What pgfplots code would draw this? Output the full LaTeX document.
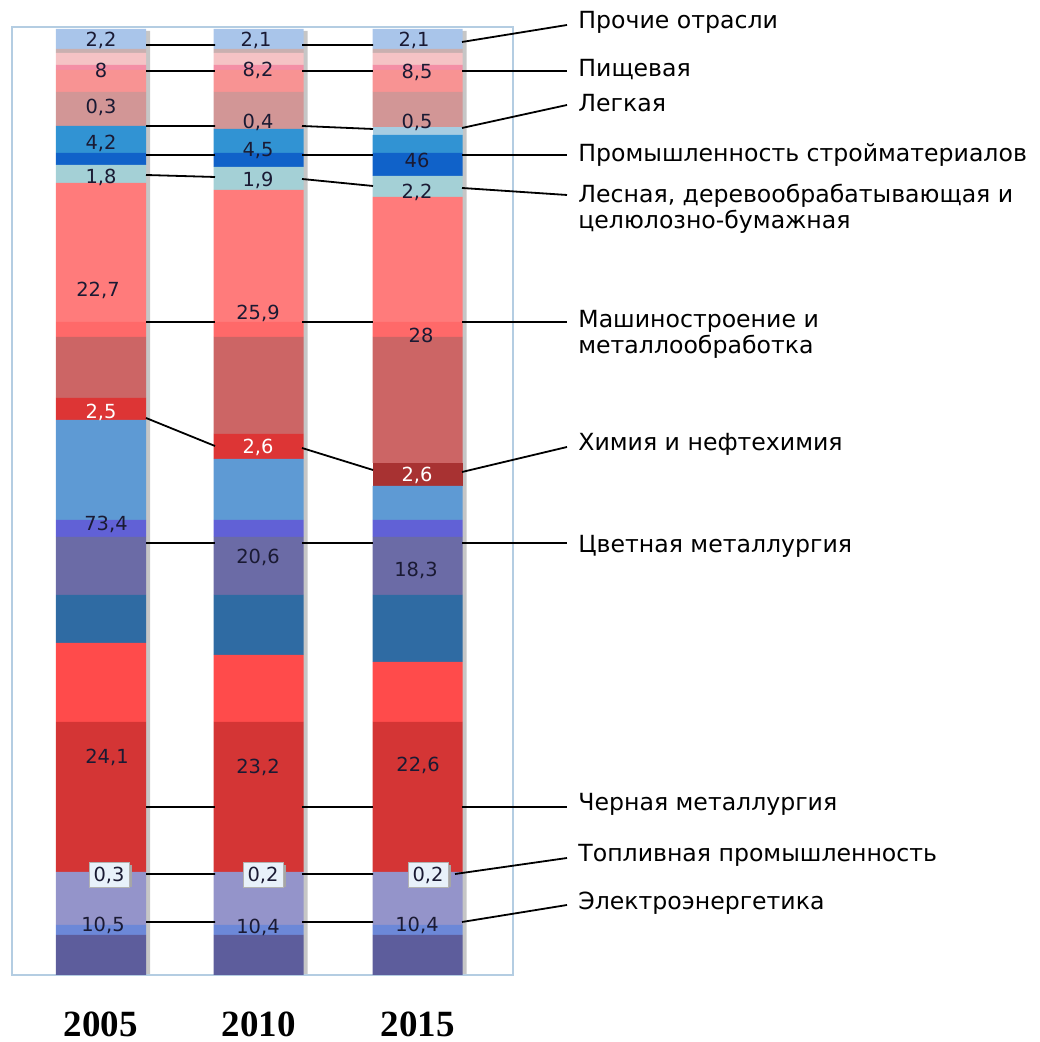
\documentclass[border=0pt]{standalone}
\usepackage{fontspec}
\setmainfont{DejaVu Sans}
\newfontfamily\yearfont{Liberation Serif}
\usepackage{pgfplots}
\pgfplotsset{compat=1.18}
\usepackage{pgfplotstable}

\definecolor{frameblue}{HTML}{B4CDE2}
\definecolor{c1}{HTML}{5D5D9C}
\definecolor{c2}{HTML}{6C88D8}
\definecolor{c3}{HTML}{9494CA}
\definecolor{c4}{HTML}{D43535}
\definecolor{c5}{HTML}{FF4B4B}
\definecolor{c6}{HTML}{2F6BA3}
\definecolor{c7}{HTML}{6B6BA6}
\definecolor{c8}{HTML}{6161D6}
\definecolor{c9}{HTML}{5E9AD4}
\definecolor{c10}{HTML}{DD3535}
\definecolor{c10b}{HTML}{A83232}
\definecolor{c11}{HTML}{CC6565}
\definecolor{c12}{HTML}{FF6969}
\definecolor{c13}{HTML}{FF7B7B}
\definecolor{c14}{HTML}{A4D0D6}
\definecolor{c15}{HTML}{1062C9}
\definecolor{c16}{HTML}{3193D3}
\definecolor{c17}{HTML}{A6CDE2}
\definecolor{c18}{HTML}{D29696}
\definecolor{c19}{HTML}{F89393}
\definecolor{c20}{HTML}{F48FA6}
\definecolor{c21}{HTML}{F5C3C5}
\definecolor{c22}{HTML}{C9B0B0}
\definecolor{c23}{HTML}{A9C5EA}
\definecolor{numtext}{HTML}{1A1A33}
\definecolor{boxfill}{HTML}{E8F1FA}

% segment heights as drawn (bottom to top); printed values are set as labels
\pgfplotstableread{
xx    sa sb sc sd  se sf sg sh si  sj  sk   sl  sm  sn  so  sp  sq  sr  ss  st  su  sv  sw  sy
101   40 10 53 150 79 48 58 17 100 22  0    61  15  139 18  12  27  0   34  22  5   12  4   20
258.5 40 10 53 150 67 60 58 17 61  25  0    97  15  132 23  14  24  0   37  22  5   12  4   20
417.5 40 10 53 150 60 67 58 17 34  0   23   126 15  125 21  23  18  8   35  22  5   12  4   20
}\datatab

\newcommand{\numfont}{\fontsize{9.7}{11}\selectfont}
\newcommand{\labfont}{\fontsize{11.8}{13}\selectfont}

\pgfplotsset{common/.style={x=0.5pt, y=0.5pt, xmin=12, xmax=513, ymin=0, ymax=948, clip=false}}

\begin{document}
\begin{tikzpicture}
% bar shadows
\begin{axis}[common, hide axis]
\addplot[ybar, bar width=90, draw=none, fill=gray!45] coordinates {(105,944) (262.5,944) (421.5,944)};
\path (axis cs:0,975) rectangle (axis cs:1039,-67);
\end{axis}

\begin{axis}[
  common,
  ybar stacked, bar width=90,
  axis line style={draw=frameblue, line width=0.6pt},
  xtick={101,258.5,417.5}, xticklabels={2005,2010,2015},
  xticklabel style={font=\yearfont\bfseries\fontsize{18.5}{22}\selectfont, anchor=center, inner sep=0pt, yshift=-24.5pt},
  ytick=\empty, major tick length=0,
]
\addplot[draw=none, fill=c1] table[x=xx,y=sa]{\datatab};
\addplot[draw=none, fill=c2] table[x=xx,y=sb]{\datatab};
\addplot[draw=none, fill=c3] table[x=xx,y=sc]{\datatab};
\addplot[draw=none, fill=c4] table[x=xx,y=sd]{\datatab};
\addplot[draw=none, fill=c5] table[x=xx,y=se]{\datatab};
\addplot[draw=none, fill=c6] table[x=xx,y=sf]{\datatab};
\addplot[draw=none, fill=c7] table[x=xx,y=sg]{\datatab};
\addplot[draw=none, fill=c8] table[x=xx,y=sh]{\datatab};
\addplot[draw=none, fill=c9] table[x=xx,y=si]{\datatab};
\addplot[draw=none, fill=c10] table[x=xx,y=sj]{\datatab};
\addplot[draw=none, fill=c10b] table[x=xx,y=sk]{\datatab};
\addplot[draw=none, fill=c11] table[x=xx,y=sl]{\datatab};
\addplot[draw=none, fill=c12] table[x=xx,y=sm]{\datatab};
\addplot[draw=none, fill=c13] table[x=xx,y=sn]{\datatab};
\addplot[draw=none, fill=c14] table[x=xx,y=so]{\datatab};
\addplot[draw=none, fill=c15] table[x=xx,y=sp]{\datatab};
\addplot[draw=none, fill=c16] table[x=xx,y=sq]{\datatab};
\addplot[draw=none, fill=c17] table[x=xx,y=sr]{\datatab};
\addplot[draw=none, fill=c18] table[x=xx,y=ss]{\datatab};
\addplot[draw=none, fill=c19] table[x=xx,y=st]{\datatab};
\addplot[draw=none, fill=c20] table[x=xx,y=su]{\datatab};
\addplot[draw=none, fill=c21] table[x=xx,y=sv]{\datatab};
\addplot[draw=none, fill=c22] table[x=xx,y=sw]{\datatab};
\addplot[draw=none, fill=c23] table[x=xx,y=sy]{\datatab};
\end{axis}

\begin{axis}[common, hide axis]
% connector lines
\draw[line width=0.9pt] (axis cs:146,930) -- (axis cs:215,930) (axis cs:302,930) -- (axis cs:373,930) (axis cs:462,933) -- (axis cs:567,950);
\draw[line width=0.9pt] (axis cs:146,904) -- (axis cs:215,904) (axis cs:302,904) -- (axis cs:373,904) (axis cs:462,904) -- (axis cs:567,904);
\draw[line width=0.9pt] (axis cs:146,849) -- (axis cs:215,849) (axis cs:302,849) -- (axis cs:373,846) (axis cs:462,847) -- (axis cs:567,870);
\draw[line width=0.9pt] (axis cs:146,820) -- (axis cs:215,820) (axis cs:302,820) -- (axis cs:373,820) (axis cs:462,820) -- (axis cs:567,820);
\draw[line width=0.9pt] (axis cs:146,800) -- (axis cs:215,798) (axis cs:302,796) -- (axis cs:373,789) (axis cs:462,787) -- (axis cs:567,780);
\draw[line width=0.9pt] (axis cs:146,653) -- (axis cs:215,653) (axis cs:302,653) -- (axis cs:373,653) (axis cs:462,653) -- (axis cs:567,653);
\draw[line width=0.9pt] (axis cs:146,557) -- (axis cs:215,529) (axis cs:302,527) -- (axis cs:373,505) (axis cs:462,503) -- (axis cs:567,528);
\draw[line width=0.9pt] (axis cs:146,432) -- (axis cs:215,432) (axis cs:302,432) -- (axis cs:373,432) (axis cs:462,432) -- (axis cs:567,432);
\draw[line width=0.9pt] (axis cs:146,168) -- (axis cs:215,168) (axis cs:302,168) -- (axis cs:373,168) (axis cs:462,168) -- (axis cs:567,168);
\draw[line width=0.9pt] (axis cs:146,101) -- (axis cs:215,101) (axis cs:302,101) -- (axis cs:373,101) (axis cs:455,101) -- (axis cs:567,117);
\draw[line width=0.9pt] (axis cs:146,53) -- (axis cs:215,53) (axis cs:302,53) -- (axis cs:373,53) (axis cs:462,53) -- (axis cs:567,70);

% value labels
\node[font=\numfont, text=numtext] at (axis cs:101,935) {2,2};
\node[font=\numfont, text=numtext] at (axis cs:101,905) {8};
\node[font=\numfont, text=numtext] at (axis cs:101,868) {0,3};
\node[font=\numfont, text=numtext] at (axis cs:101,832) {4,2};
\node[font=\numfont, text=numtext] at (axis cs:101,798) {1,8};
\node[font=\numfont, text=numtext] at (axis cs:98,685) {22,7};
\node[font=\numfont, text=white] at (axis cs:101,563) {2,5};
\node[font=\numfont, text=numtext] at (axis cs:106,451) {73,4};
\node[font=\numfont, text=numtext] at (axis cs:107,218) {24,1};
\node[font=\numfont, text=numtext] at (axis cs:103,50) {10,5};
\node[font=\numfont, text=numtext] at (axis cs:256,935) {2,1};
\node[font=\numfont, text=numtext] at (axis cs:258,905) {8,2};
\node[font=\numfont, text=numtext] at (axis cs:258,853) {0,4};
\node[font=\numfont, text=numtext] at (axis cs:258,824) {4,5};
\node[font=\numfont, text=numtext] at (axis cs:258,795) {1,9};
\node[font=\numfont, text=numtext] at (axis cs:258,662) {25,9};
\node[font=\numfont, text=white] at (axis cs:258,528) {2,6};
\node[font=\numfont, text=numtext] at (axis cs:258,418) {20,6};
\node[font=\numfont, text=numtext] at (axis cs:258,208) {23,2};
\node[font=\numfont, text=numtext] at (axis cs:258,48) {10,4};
\node[font=\numfont, text=numtext] at (axis cs:414,935) {2,1};
\node[font=\numfont, text=numtext] at (axis cs:417,903) {8,5};
\node[font=\numfont, text=numtext] at (axis cs:417,853) {0,5};
\node[font=\numfont, text=numtext] at (axis cs:417,815) {46};
\node[font=\numfont, text=numtext] at (axis cs:417,783) {2,2};
\node[font=\numfont, text=numtext] at (axis cs:421,640) {28};
\node[font=\numfont, text=white] at (axis cs:417,500) {2,6};
\node[font=\numfont, text=numtext] at (axis cs:416,405) {18,3};
\node[font=\numfont, text=numtext] at (axis cs:418,210) {22,6};
\node[font=\numfont, text=numtext] at (axis cs:417,50) {10,4};

\fill[gray!70] (axis cs:91,88) rectangle (axis cs:132,110);
\node[font=\numfont, text=numtext, fill=boxfill, draw=gray!60, inner sep=2pt, minimum width=20pt, minimum height=10pt] at (axis cs:109,100) {0,3};
\fill[gray!70] (axis cs:245,88) rectangle (axis cs:286,110);
\node[font=\numfont, text=numtext, fill=boxfill, draw=gray!60, inner sep=2pt, minimum width=20pt, minimum height=10pt] at (axis cs:263,100) {0,2};
\fill[gray!70] (axis cs:410,88) rectangle (axis cs:451,110);
\node[font=\numfont, text=numtext, fill=boxfill, draw=gray!60, inner sep=2pt, minimum width=20pt, minimum height=10pt] at (axis cs:428,100) {0,2};

% category labels
\node[font=\labfont, anchor=west, inner sep=0pt] at (axis cs:578,953) {Прочие отрасли};
\node[font=\labfont, anchor=west, inner sep=0pt] at (axis cs:578,905) {Пищевая};
\node[font=\labfont, anchor=west, inner sep=0pt] at (axis cs:578,872) {Легкая};
\node[font=\labfont, anchor=west, inner sep=0pt] at (axis cs:578,820) {Промышленность стройматериалов};
\node[font=\labfont, anchor=west, align=left, inner sep=0pt] at (axis cs:578,766) {Лесная, деревообрабатывающая и\\целюлозно-бумажная};
\node[font=\labfont, anchor=west, align=left, inner sep=0pt] at (axis cs:578,641) {Машиностроение и\\металлообработка};
\node[font=\labfont, anchor=west, inner sep=0pt] at (axis cs:578,531) {Химия и нефтехимия};
\node[font=\labfont, anchor=west, inner sep=0pt] at (axis cs:578,429) {Цветная металлургия};
\node[font=\labfont, anchor=west, inner sep=0pt] at (axis cs:578,171) {Черная металлургия};
\node[font=\labfont, anchor=west, inner sep=0pt] at (axis cs:578,120) {Топливная промышленность};
\node[font=\labfont, anchor=west, inner sep=0pt] at (axis cs:578,72) {Электроэнергетика};
\end{axis}
\end{tikzpicture}
\end{document}
